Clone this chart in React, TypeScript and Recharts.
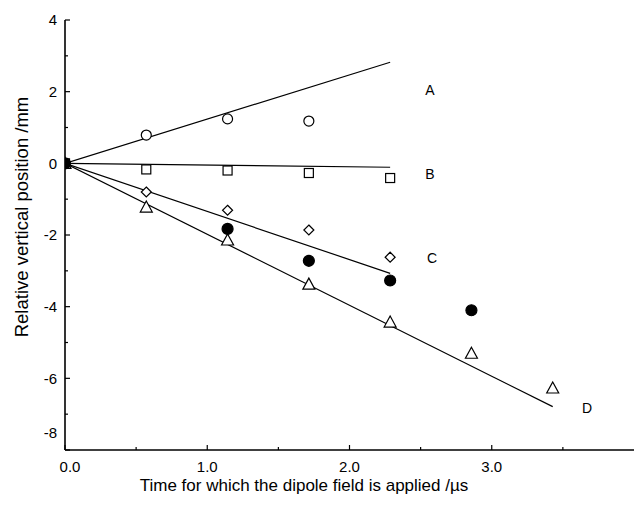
import React from 'react';
import { ComposedChart, Scatter, XAxis, YAxis } from 'recharts';

// Bottom axis (labelled) scale 0..4, top axis (data) scale 0..3.5
const bottomTicks = [0, 0.5, 1, 1.5, 2, 2.5, 3, 3.5];
const bottomLabelValues = [0, 1, 2, 3];
const topTicks = [0.5, 1, 1.5, 2, 2.5, 3];
const yTicks = [-8, -7, -6, -5, -4, -3, -2, -1, 0, 1, 2, 3, 4];
const yLabelValues = [-8, -6, -4, -2, 0, 2, 4];

// measured points (x on data/top scale)
const circlesA = [
  { x: 0, y: 0 }, { x: 0.5, y: 0.79 }, { x: 1.0, y: 1.24 }, { x: 1.5, y: 1.18 },
];
const squaresB = [
  { x: 0, y: 0 }, { x: 0.5, y: -0.17 }, { x: 1.0, y: -0.2 }, { x: 1.5, y: -0.27 }, { x: 2.0, y: -0.41 },
];
const diamondsC = [
  { x: 0, y: 0 }, { x: 0.5, y: -0.8 }, { x: 1.0, y: -1.31 }, { x: 1.5, y: -1.86 }, { x: 2.0, y: -2.62 },
];
const filledCircles = [
  { x: 0, y: 0 }, { x: 1.0, y: -1.83 }, { x: 1.5, y: -2.72 }, { x: 2.0, y: -3.27 }, { x: 2.5, y: -4.1 },
];
const trianglesD = [
  { x: 0, y: 0 }, { x: 0.5, y: -1.22 }, { x: 1.0, y: -2.14 }, { x: 1.5, y: -3.37 },
  { x: 2.0, y: -4.43 }, { x: 2.5, y: -5.3 }, { x: 3.0, y: -6.27 },
];

// fitted lines
const fitA = [{ x: 0, y: 0 }, { x: 2.0, y: 2.82 }];
const fitB = [{ x: 0, y: 0 }, { x: 2.0, y: -0.11 }];
const fitC = [{ x: 0, y: 0 }, { x: 2.0, y: -3.07 }];
const fitD = [{ x: 0, y: 0 }, { x: 3.0, y: -6.79 }];

// curve labels (x on bottom scale)
const curveLabels = [
  { x: 2.566, y: 2.04, text: 'A' },
  { x: 2.566, y: -0.31, text: 'B' },
  { x: 2.58, y: -2.63, text: 'C' },
  { x: 3.67, y: -6.84, text: 'D' },
];

const FONT = '"Liberation Sans", Arial, sans-serif';
const SW = 1.2;

const OpenCircle = (p: any) => (
  <circle cx={p.cx} cy={p.cy} r={5} fill="#fff" stroke="#000" strokeWidth={SW} />
);
const FilledCircle = (p: any) => (
  <circle cx={p.cx} cy={p.cy} r={5.5} fill="#000" stroke="#000" strokeWidth={SW} />
);
const Square = (p: any) => (
  <rect x={p.cx - 4.5} y={p.cy - 4.5} width={9} height={9} fill="#fff" stroke="#000" strokeWidth={SW} />
);
const Diamond = (p: any) => (
  <path d={`M${p.cx},${p.cy - 5}L${p.cx + 5},${p.cy}L${p.cx},${p.cy + 5}L${p.cx - 5},${p.cy}Z`} fill="#fff" stroke="#000" strokeWidth={SW} />
);
const Triangle = (p: any) => (
  <path d={`M${p.cx},${p.cy - 6}L${p.cx + 6},${p.cy + 5}L${p.cx - 6},${p.cy + 5}Z`} fill="#fff" stroke="#000" strokeWidth={SW} />
);
const NoShape = () => <g />;
const LabelShape = (p: any) => (
  <text x={p.cx} y={p.cy} dy="0.36em" textAnchor="middle" fontFamily={FONT} fontSize={14} fill="#000">
    {p.payload.text}
  </text>
);

const isMajorX = (v: number) => bottomLabelValues.indexOf(v) >= 0;

const BottomTick = (props: any) => {
  const { x, y, payload } = props;
  const v = payload.value as number;
  const major = Number.isInteger(v);
  return (
    <g>
      <line x1={x} x2={x} y1={y} y2={y - (major ? 5 : 3)} stroke="#000" strokeWidth={1.2} />
      {isMajorX(v) && (
        <text x={x + (v === 0 ? 5 : 0)} y={y + 11} dy="0.71em" textAnchor="middle" fontFamily={FONT} fontSize={15} fill="#000">
          {v.toFixed(1)}
        </text>
      )}
    </g>
  );
};

const TopTick = (props: any) => {
  const { x, y, payload } = props;
  const v = payload.value as number;
  const major = Number.isInteger(v);
  return <line x1={x} x2={x} y1={y} y2={y + (major ? 5 : 3)} stroke="#000" strokeWidth={1.2} />;
};

const LeftTick = (props: any) => {
  const { x, y, payload } = props;
  const v = payload.value as number;
  const major = yLabelValues.indexOf(v) >= 0;
  return (
    <g>
      <line x1={x} x2={x + (major ? 5 : 3)} y1={y} y2={y} stroke="#000" strokeWidth={1.2} />
      {major && (
        <text x={x - 8} y={y + (v === -8 ? -17 : 0)} dy="0.36em" textAnchor="end" fontFamily={FONT} fontSize={15} fill="#000">
          {String(v)}
        </text>
      )}
    </g>
  );
};

const RightTick = (props: any) => {
  const { x, y, payload } = props;
  const v = payload.value as number;
  const major = yLabelValues.indexOf(v) >= 0;
  return <line x1={x} x2={x - (major ? 5 : 3)} y1={y} y2={y} stroke="#000" strokeWidth={1.2} />;
};

const lineStyle = { stroke: '#000', strokeWidth: 1.2 };

export default function App() {
  return (
    <div style={{ position: 'absolute', left: 0, top: 0, background: '#fff' }}>
      <ComposedChart width={634} height={505} margin={{ top: 20, right: 0, bottom: 0, left: 0 }}>
        <XAxis
          xAxisId="bottom"
          dataKey="x"
          type="number"
          orientation="bottom"
          domain={[0, 4]}
          ticks={bottomTicks}
          interval={0}
          height={55}
          tickSize={0}
          tickMargin={0}
          tickLine={false}
          tick={<BottomTick />}
          axisLine={{ stroke: '#000', strokeWidth: 1.6 }}
          allowDataOverflow
        />
        <XAxis
          xAxisId="top"
          dataKey="x"
          type="number"
          orientation="top"
          domain={[0, 3.5]}
          ticks={topTicks}
          interval={0}
          height={0}
          tickSize={0}
          tickMargin={0}
          tickLine={false}
          tick={<TopTick />}
          axisLine={{ stroke: '#000', strokeWidth: 1.6 }}
          allowDataOverflow
        />
        <YAxis
          yAxisId="left"
          dataKey="y"
          type="number"
          orientation="left"
          domain={[-8, 4]}
          ticks={yTicks}
          interval={0}
          width={65}
          tickSize={0}
          tickMargin={0}
          tickLine={false}
          tick={<LeftTick />}
          axisLine={{ stroke: '#000', strokeWidth: 1.6 }}
          allowDataOverflow
        />
        <YAxis
          yAxisId="right"
          dataKey="y"
          type="number"
          orientation="right"
          domain={[-8, 4]}
          ticks={yTicks}
          interval={0}
          width={0}
          tickSize={0}
          tickMargin={0}
          tickLine={false}
          tick={<RightTick />}
          axisLine={false}
          allowDataOverflow
        />

        <Scatter xAxisId="top" yAxisId="left" dataKey="y" data={fitA} line={lineStyle} lineType="joint" shape={<NoShape />} isAnimationActive={false} />
        <Scatter xAxisId="top" yAxisId="left" dataKey="y" data={fitB} line={lineStyle} lineType="joint" shape={<NoShape />} isAnimationActive={false} />
        <Scatter xAxisId="top" yAxisId="left" dataKey="y" data={fitC} line={lineStyle} lineType="joint" shape={<NoShape />} isAnimationActive={false} />
        <Scatter xAxisId="top" yAxisId="left" dataKey="y" data={fitD} line={lineStyle} lineType="joint" shape={<NoShape />} isAnimationActive={false} />

        <Scatter xAxisId="top" yAxisId="left" dataKey="y" data={circlesA} shape={<OpenCircle />} isAnimationActive={false} />
        <Scatter xAxisId="top" yAxisId="left" dataKey="y" data={squaresB} shape={<Square />} isAnimationActive={false} />
        <Scatter xAxisId="top" yAxisId="left" dataKey="y" data={diamondsC} shape={<Diamond />} isAnimationActive={false} />
        <Scatter xAxisId="top" yAxisId="left" dataKey="y" data={trianglesD} shape={<Triangle />} isAnimationActive={false} />
        <Scatter xAxisId="top" yAxisId="left" dataKey="y" data={filledCircles} shape={<FilledCircle />} isAnimationActive={false} />

        <Scatter xAxisId="bottom" yAxisId="right" dataKey="y" data={curveLabels} shape={<LabelShape />} isAnimationActive={false} />

        <text x={304} y={485} dy="0.36em" textAnchor="middle" fontFamily={FONT} fontSize={17} fill="#000">
          Time for which the dipole field is applied /µs
        </text>
        <text x={21} y={217} dy="0.36em" textAnchor="middle" fontFamily={FONT} fontSize={18.5} fill="#000" transform="rotate(-90 21 217)">
          Relative vertical position /mm
        </text>
      </ComposedChart>
    </div>
  );
}
